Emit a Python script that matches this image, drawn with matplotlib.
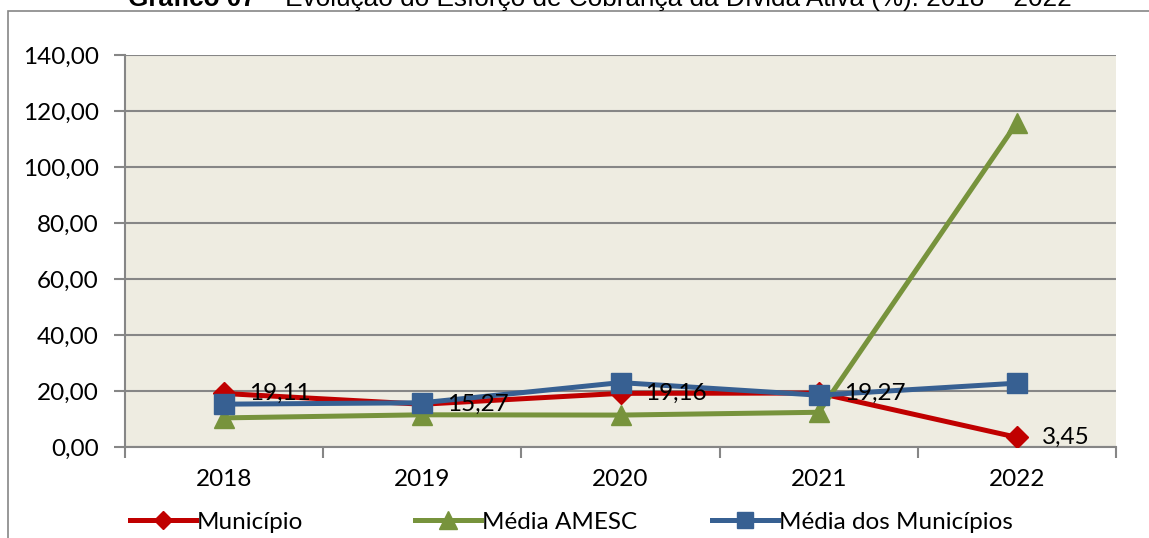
import matplotlib
matplotlib.use("Agg")
import matplotlib.pyplot as plt
from matplotlib.patches import Rectangle
from matplotlib.lines import Line2D

years = ["2018", "2019", "2020", "2021", "2022"]
municipio = [19.11, 15.27, 19.16, 19.27, 3.45]
media_amesc = [10.4, 11.5, 11.4, 12.4, 115.8]
media_municipios = [15.3, 15.8, 23.0, 18.5, 22.8]
municipio_labels = ["19,11", "15,27", "19,16", "19,27", "3,45"]
yticks = [0, 20, 40, 60, 80, 100, 120, 140]
title_bold = "Gráfico 07"
title_rest = " – Evolução do Esforço de Cobrança da Dívida Ativa (%): 2018 – 2022"

FONT = "Lato"
FS = 17.5
W, H = 1149, 538
fig = plt.figure(figsize=(W / 100, H / 100), dpi=100)
fig.patch.set_facecolor("white")

# outer chart border
fig.patches.append(Rectangle((8 / W, -0.2), 1.2, 1.2 - 11 / H, transform=fig.transFigure,
                             fill=False, edgecolor="#868686", linewidth=1.2, zorder=0))

ax = fig.add_axes([125 / W, 1 - 447 / H, (1116 - 125) / W, (447 - 55) / H])
ax.set_facecolor("#EEECE1")

x = list(range(len(years)))
red, green, blue = "#C00000", "#77933C", "#376092"
ax.plot(x, municipio, color=red, lw=3.6, marker="D", ms=11, zorder=3, solid_joinstyle="round")
ax.plot(x, media_amesc, color=green, lw=3.6, marker="^", ms=15, zorder=4, solid_joinstyle="round")
ax.plot(x, media_municipios, color=blue, lw=3.6, marker="s", ms=14, zorder=5, solid_joinstyle="round")

for xi, v, lab in zip(x, municipio, municipio_labels):
    ax.annotate(lab, (xi, v), xytext=(18, 0), textcoords="offset points", ha="left", va="center",
                fontsize=FS, family=FONT, color="black", zorder=10)

ax.set_xlim(-0.5, len(years) - 0.5)
ax.set_ylim(0, 140)
ax.set_yticks(yticks)
ax.set_yticklabels([f"{v:.2f}".replace(".", ",") for v in yticks], fontsize=FS, family=FONT)
ax.yaxis.grid(True, color="#868686", lw=1.5)
ax.set_axisbelow(True)
ax.set_xticks([i - 0.5 for i in range(len(years) + 1)])
ax.set_xticklabels([])
ax.set_xticks(x, minor=True)
ax.set_xticklabels(years, minor=True, fontsize=FS, family=FONT)
ax.tick_params(axis="x", which="minor", length=0, pad=16)
ax.tick_params(axis="x", which="major", length=8, color="#868686", width=1.5)
ax.tick_params(axis="y", length=8, color="#868686", width=1.5, pad=11)
for s in ["top", "right"]:
    ax.spines[s].set_visible(False)
for s in ["left", "bottom"]:
    ax.spines[s].set_color("#868686")
    ax.spines[s].set_linewidth(1.5)

# legends
items = [("Município", red, "D", 9), ("Média AMESC", green, "^", 13), ("Média dos Municípios", blue, "s", 12)]
starts = [130, 415, 712]
for (lab, c, m, ms), sx in zip(items, starts):
    h = Line2D([], [], color=c, lw=3.6, marker=m, ms=ms)
    fig.legend([h], [lab], loc="center left", bbox_to_anchor=(sx / W, 1 - 522 / H),
               frameon=False, handlelength=2.7, handletextpad=0.05, borderaxespad=0, borderpad=0,
               prop={"family": FONT, "size": FS})

# title (cut off at top as in the reference)
tb = fig.text(0, 1 - 6 / H, title_bold, ha="left", va="baseline", fontsize=16,
              family="Liberation Sans", fontweight="bold")
tr = fig.text(0, 1 - 6 / H, title_rest, ha="left", va="baseline", fontsize=16, family="Liberation Sans")
fig.canvas.draw()
r = fig.canvas.get_renderer()
wb = tb.get_window_extent(r).width
wr = tr.get_window_extent(r).width
x0 = 128
target = 1070 - x0
scale = target / (wb + wr)
tb.set_fontsize(16 * scale)
tr.set_fontsize(16 * scale)
fig.canvas.draw()
wb = tb.get_window_extent(r).width
tb.set_x(x0 / W)
tr.set_x((x0 + wb) / W)

fig.savefig("out.png", dpi=100)
